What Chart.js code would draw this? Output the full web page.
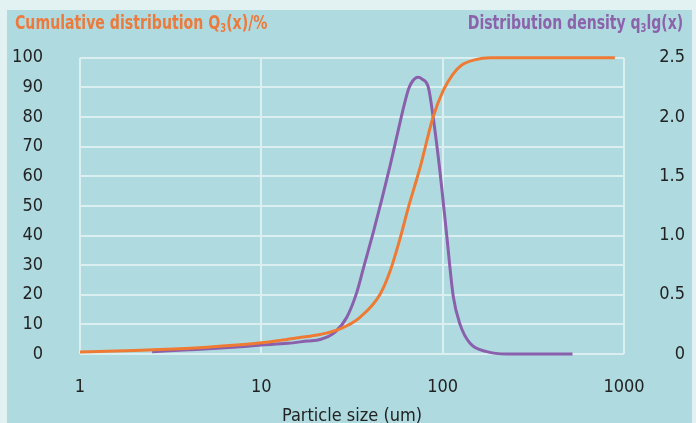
<!DOCTYPE html>
<html>
<head>
<meta charset="utf-8">
<script src="https://cdn.jsdelivr.net/npm/chart.js@4.4.1/dist/chart.umd.min.js"></script>
<style>
    html, body { margin: 0; padding: 0; width: 696px; height: 423px; overflow: hidden; background: #e2f2f3; }
    #panel { position: absolute; left: 7px; top: 10px; width: 685px; height: 413px; background: #afdbe0; overflow: hidden;
             font-family: "DejaVu Sans Condensed", "DejaVu Sans", sans-serif; }
    #wrap { position: absolute; left: 0; top: 0; width: 685px; height: 440px; }
    .ttl { position: absolute; top: 2px; font-size: 20px; font-weight: bold; line-height: 20px; white-space: nowrap; }
    .ttl sub { font-size: 12px; vertical-align: -3px; line-height: 0; }
    #ttlLeft { left: 8px; color: #ec7a3c; transform: scaleX(0.785); transform-origin: left center; }
    #ttlRight { right: 9px; color: #8c63aa; transform: scaleX(0.78); transform-origin: right center; }
</style>
</head>
<body>
<div id="panel">
    <div id="wrap"><canvas id="psdChart"></canvas></div>
    <div class="ttl" id="ttlLeft">Cumulative distribution Q<sub>3</sub>(x)/%</div>
    <div class="ttl" id="ttlRight">Distribution density q<sub>3</sub>lg(x)</div>
</div>
<script>
// particle size (um) and cumulative distribution Q3 (%)
const cumSizes = [1, 2, 3, 5, 10, 12.7, 16, 21.1, 27.2, 35, 45.2, 51.3, 58.2, 64.7, 71.9, 75.1, 88.6, 100.5, 114, 127, 150, 184, 890];
const cumValues = [0.7, 1.2, 1.6, 2.3, 3.8, 4.6, 5.5, 6.6, 8.5, 12.4, 20.2, 28, 39, 49.5, 59, 63, 80, 88.8, 94.5, 97.5, 99.3, 100, 100];

// particle size (um) and distribution density q3lg(x)
const densSizes = [2.5, 4, 6, 10, 14, 18, 21.1, 25.5, 29.6, 33.6, 36.5, 41.5, 46.1, 51.5, 58.5, 62, 65, 68, 73, 77, 83.4, 88.6, 96.8, 105.3, 114.3, 124.7, 141.6, 175, 226, 520];
const densValues = [0.02, 0.035, 0.05, 0.075, 0.09, 0.11, 0.122, 0.185, 0.31, 0.52, 0.72, 1.03, 1.3, 1.6, 1.97, 2.13, 2.24, 2.3, 2.335, 2.32, 2.25, 2.0, 1.53, 1.0, 0.49, 0.25, 0.09, 0.02, 0, 0];

const xTicks = [1, 10, 100, 1000];
const leftTicks = [0, 10, 20, 30, 40, 50, 60, 70, 80, 90, 100];
const rightTicks = [0, 0.5, 1.0, 1.5, 2.0, 2.5];
const rightTickLabels = ['0', '0.5', '1.0', '1.5', '2.0', '2.5'];

const ORANGE = '#ef7a33';
const PURPLE = '#8a5fab';
const GRID = '#dbeff1';

Chart.defaults.font.family = '"DejaVu Sans Condensed", "DejaVu Sans", sans-serif';
Chart.defaults.font.size = 18;
Chart.defaults.color = '#222222';

const toPoints = (xs, ys) => xs.map((x, i) => ({ x: x, y: ys[i] }));

new Chart(document.getElementById('psdChart'), {
    type: 'line',
    data: {
        datasets: [
            {
                label: 'Q3',
                data: toPoints(cumSizes, cumValues),
                yAxisID: 'yQ',
                borderColor: ORANGE,
                borderWidth: 3,
                pointRadius: 0,
                cubicInterpolationMode: 'monotone',
                clip: 6,
                order: 1
            },
            {
                label: 'q3lg',
                data: toPoints(densSizes, densValues),
                yAxisID: 'yq',
                borderColor: PURPLE,
                borderWidth: 3,
                pointRadius: 0,
                cubicInterpolationMode: 'monotone',
                clip: 6,
                order: 2
            }
        ]
    },
    options: {
        responsive: true,
        maintainAspectRatio: false,
        animation: false,
        layout: { padding: { top: 43, right: 7, left: 0, bottom: 0 } },
        plugins: { legend: { display: false }, tooltip: { enabled: false } },
        scales: {
            x: {
                type: 'logarithmic',
                min: 1,
                max: 1000,
                afterBuildTicks: (axis) => { axis.ticks = xTicks.map(v => ({ value: v })); },
                afterFit: (axis) => { axis.height = 96; },
                ticks: { padding: 23, callback: (v) => String(v), autoSkip: false, maxRotation: 0 },
                grid: { color: GRID, lineWidth: 2, drawTicks: false },
                border: { display: false },
                title: { display: true, text: 'Particle size (um)', font: { size: 18 }, padding: { bottom: 23, top: 0 } }
            },
            yQ: {
                position: 'left',
                min: 0,
                max: 100,
                afterBuildTicks: (axis) => { axis.ticks = leftTicks.map(v => ({ value: v })); },
                afterFit: (axis) => { axis.width = 73; },
                ticks: { padding: 37, callback: (v) => String(v) },
                grid: { color: GRID, lineWidth: 2, drawTicks: false },
                border: { display: false }
            },
            yq: {
                position: 'right',
                min: 0,
                max: 2.5,
                afterBuildTicks: (axis) => { axis.ticks = rightTicks.map(v => ({ value: v })); },
                afterFit: (axis) => { axis.width = 61; },
                ticks: {
                    crossAlign: 'far',
                    callback: (v) => rightTickLabels[rightTicks.indexOf(v)]
                },
                grid: { display: false, drawTicks: false },
                border: { display: false }
            }
        }
    }
});
</script>
</body>
</html>
